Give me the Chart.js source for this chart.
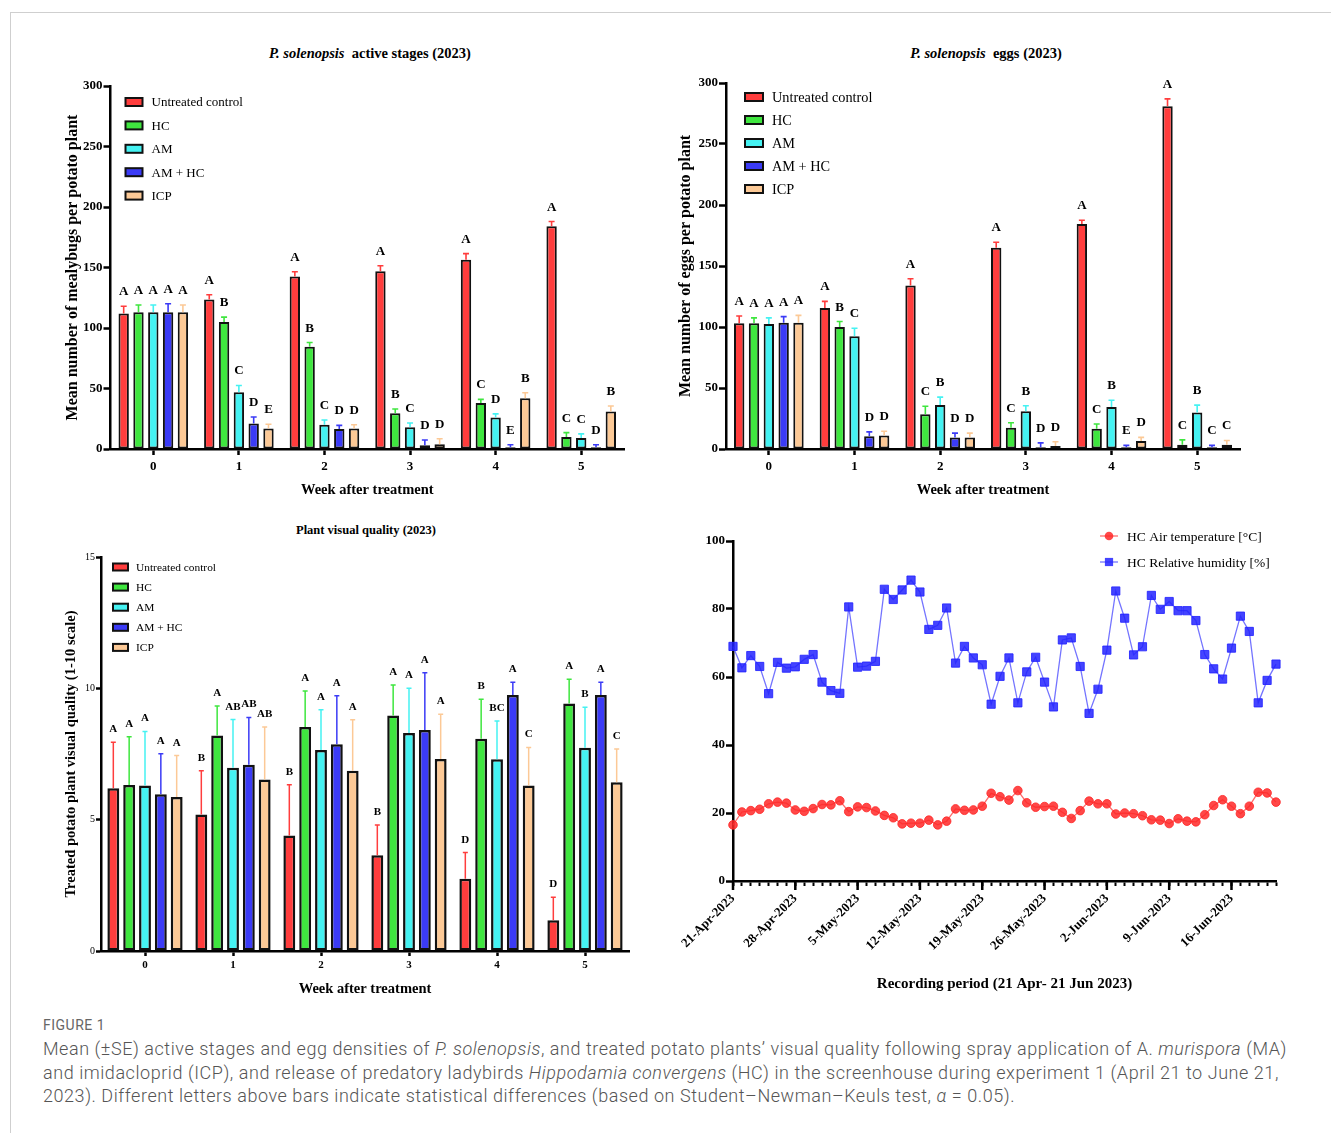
<!DOCTYPE html>
<html>
<head>
<meta charset="utf-8">
<script src="https://cdn.jsdelivr.net/npm/chart.js@4.4.0/dist/chart.umd.min.js"></script>
<style>
  body { margin: 0; background: #fff; width: 1331px; height: 1133px; position: relative; overflow: hidden; }
  .frame { position: absolute; left: 10px; top: 12px; right: -2px; bottom: -2px; border-top: 1px solid #cfcfcf; border-left: 1px solid #cfcfcf; }
  canvas { position: absolute; }
  .title { position: absolute; font-family: "Liberation Serif", serif; font-weight: bold; text-align: center; color: #000; white-space: nowrap; }
  .figno { position: absolute; left: 43px; top: 1017px; font-family: Roboto, sans-serif; font-size: 14px; color: #666; letter-spacing: 0.5px; }
  .caption { position: absolute; left: 43px; top: 1037px; font-family: Roboto, sans-serif; font-weight: 300; font-size: 18px; letter-spacing: 0.55px; line-height: 23.6px; color: #555; white-space: nowrap; }
</style>
</head>
<body>
<div class="frame"></div>

<div class="title" style="left:60px;width:620px;top:45px;font-size:14.5px"><i>P. solenopsis</i>&nbsp; active stages (2023)</div>
<div class="title" style="left:700px;width:572px;top:45px;font-size:14.5px"><i>P. solenopsis</i>&nbsp; eggs (2023)</div>
<div class="title" style="left:60px;width:612px;top:523px;font-size:12.5px">Plant visual quality (2023)</div>

<canvas id="active" width="590" height="470" style="left:60px;top:40px"></canvas>
<canvas id="eggs" width="590" height="470" style="left:670px;top:40px"></canvas>
<canvas id="quality" width="610" height="470" style="left:40px;top:540px"></canvas>
<canvas id="climate" width="651" height="480" style="left:680px;top:520px"></canvas>

<div class="figno">FIGURE 1</div>
<div class="caption">Mean (±SE) active stages and egg densities of <i>P. solenopsis</i>, and treated potato plants’ visual quality following spray application of A. <i>murispora</i> (MA)<br>and imidacloprid (ICP), and release of predatory ladybirds <i>Hippodamia convergens</i> (HC) in the screenhouse during experiment 1 (April 21 to June 21,<br>2023). Different letters above bars indicate statistical differences (based on Student–Newman–Keuls test, <i>α</i> = 0.05).</div>

<script>
// categories
const weeks = ["0", "1", "2", "3", "4", "5"];
const treatments = ["Untreated control", "HC", "AM", "AM + HC", "ICP"];
const treatColors = ["#ff3d3d", "#3fe63f", "#45f2f2", "#3b3bf6", "#fcc996"];

// active stages per plant (rows follow treatments)
const activeMeans = [
    [112, 123.5, 142.5, 147, 156.5, 184],
    [113, 105, 84.5, 29.5, 38, 10],
    [113, 47, 20, 18, 26, 9],
    [113, 21, 16.5, 3, 1.5, 1.5],
    [113, 17, 17, 4, 42, 31]
];
const activeErr = [
    [6, 4, 4, 4.5, 5, 4],
    [6, 4, 3.5, 3.5, 3, 3.5],
    [6, 5.5, 4, 3.5, 3, 3.5],
    [7, 5.5, 3, 4.5, 2, 2],
    [6, 3.5, 3, 4.5, 4.5, 4.5]
];
const activeLetters = [
    ["A", "A", "A", "A", "A", "A"],
    ["A", "B", "B", "B", "C", "C"],
    ["A", "C", "C", "C", "D", "C"],
    ["A", "D", "D", "D", "E", "D"],
    ["A", "E", "D", "D", "B", "B"]
];

// eggs per plant
const eggMeans = [
    [103, 115.5, 134, 165, 184.5, 281],
    [103, 100, 28.5, 17.5, 16.5, 3.5],
    [102.5, 92.5, 36, 31, 34.5, 30],
    [103.5, 10.5, 9.5, 1.5, 1.5, 1.5],
    [103.5, 11, 9.5, 2.5, 6.5, 3.5]
];
const eggErr = [
    [6, 5.5, 5.5, 4.5, 3, 6],
    [4.5, 4.5, 6.5, 4, 4, 4],
    [5, 6.5, 6.5, 4.5, 5.5, 6],
    [5, 3.5, 3.5, 3.5, 1.5, 1.5],
    [6, 3.5, 3.5, 3.5, 3, 3.5]
];
const eggLetters = [
    ["A", "A", "A", "A", "A", "A"],
    ["A", "B", "C", "C", "C", "C"],
    ["A", "C", "B", "B", "B", "B"],
    ["A", "D", "D", "D", "E", "C"],
    ["A", "D", "D", "D", "D", "C"]
];

// plant visual quality (1-10 scale)
const qualityMeans = [
    [6.2, 5.2, 4.4, 3.65, 2.75, 1.17],
    [6.32, 8.2, 8.53, 8.97, 8.08, 9.42],
    [6.3, 6.98, 7.65, 8.3, 7.3, 7.74],
    [5.97, 7.09, 7.87, 8.41, 9.75, 9.75],
    [5.86, 6.53, 6.86, 7.31, 6.3, 6.42]
];
const qualityErr = [
    [1.75, 1.66, 1.93, 1.15, 1.0, 0.88],
    [1.84, 1.13, 1.37, 1.16, 1.5, 0.93],
    [2.06, 1.83, 1.53, 1.7, 1.46, 1.54],
    [1.54, 1.8, 1.85, 2.18, 0.48, 0.48],
    [1.58, 2.0, 1.94, 1.7, 1.45, 1.27]
];
const qualityLetters = [
    ["A", "B", "B", "B", "D", "D"],
    ["A", "A", "A", "A", "B", "A"],
    ["A", "AB", "A", "A", "BC", "B"],
    ["A", "AB", "A", "A", "A", "A"],
    ["A", "AB", "A", "A", "C", "C"]
];

// daily climate 21 Apr - 21 Jun 2023
const dateTicks = ["21-Apr-2023", "28-Apr-2023", "5-May-2023", "12-May-2023", "19-May-2023",
                   "26-May-2023", "2-Jun-2023", "9-Jun-2023", "16-Jun-2023"];
const airTemp = [16.5, 20.3, 20.7, 21.1, 22.7, 23.2, 22.9, 20.9, 20.5, 21.3,
                 22.5, 22.4, 23.6, 20.4, 21.8, 21.6, 20.6, 19.3, 18.6, 16.8,
                 17.0, 17.0, 17.9, 16.5, 17.6, 21.2, 20.8, 20.9, 22.0, 25.8,
                 24.8, 23.8, 26.6, 23.0, 21.7, 21.9, 22.0, 20.2, 18.4, 20.7,
                 23.5, 22.7, 22.7, 19.7, 20.0, 19.8, 19.2, 18.0, 17.9, 16.9,
                 18.3, 17.6, 17.4, 19.5, 22.2, 23.9, 22.0, 19.8, 22.0, 26.1,
                 25.9, 23.2];
const humidity = [69.0, 62.7, 66.3, 63.1, 55.1, 64.3, 62.6, 63.0, 65.2, 66.6,
                  58.5, 56.0, 55.2, 80.6, 62.9, 63.2, 64.6, 85.8, 82.8, 85.6,
                  88.5, 85.0, 74.0, 75.2, 80.3, 64.1, 69.0, 65.6, 63.6, 52.0,
                  60.2, 65.6, 52.4, 61.5, 65.8, 58.5, 51.2, 70.9, 71.5, 63.1,
                  49.3, 56.4, 67.9, 85.3, 77.3, 66.5, 68.9, 84.0, 79.9, 82.2,
                  79.5, 79.5, 76.6, 66.6, 62.4, 59.4, 68.5, 77.9, 73.4, 52.4,
                  59.0, 63.8];

const monthNames = ["Jan", "Feb", "Mar", "Apr", "May", "Jun", "Jul", "Aug", "Sep", "Oct", "Nov", "Dec"];
const days = airTemp.map((_, i) => {
    const d = new Date(Date.UTC(2023, 3, 21 + i));
    return d.getUTCDate() + "-" + monthNames[d.getUTCMonth()] + "-2023";
});

Chart.defaults.font.family = '"Liberation Serif", "Times New Roman", serif';
Chart.defaults.color = "#000";

const SERIF = '"Liberation Serif", serif';

// error bars (upper half only) and significance letters
const errorBars = {
    id: "errorBars",
    afterDatasetsDraw(chart, args, o) {
        const ctx = chart.ctx;
        const y = chart.scales.y;
        chart.data.datasets.forEach((ds, di) => {
            chart.getDatasetMeta(di).data.forEach((bar, i) => {
                const top = y.getPixelForValue(ds.data[i] + ds.errors[i]);
                ctx.save();
                ctx.strokeStyle = ds.backgroundColor;
                ctx.lineWidth = o.lineWidth;
                ctx.beginPath();
                ctx.moveTo(bar.x, bar.y);
                ctx.lineTo(bar.x, top);
                ctx.moveTo(bar.x - o.cap / 2, top);
                ctx.lineTo(bar.x + o.cap / 2, top);
                ctx.stroke();
                ctx.fillStyle = "#000";
                ctx.font = o.font;
                ctx.textAlign = "center";
                ctx.textBaseline = "alphabetic";
                ctx.fillText(ds.letters[i], bar.x, top - o.gap);
                ctx.restore();
            });
        });
    }
};

// legend with black-outlined colour boxes, inside the plot
const boxLegend = {
    id: "boxLegend",
    afterDraw(chart, args, o) {
        const ctx = chart.ctx;
        const { left, top } = chart.chartArea;
        chart.data.datasets.forEach((ds, i) => {
            const bx = left + o.x;
            const cy = top + o.y + i * o.gap;
            ctx.save();
            ctx.fillStyle = ds.backgroundColor;
            ctx.fillRect(bx, cy - o.h / 2, o.w, o.h);
            ctx.strokeStyle = "#111";
            ctx.lineWidth = 2;
            ctx.strokeRect(bx, cy - o.h / 2, o.w, o.h);
            ctx.fillStyle = "#000";
            ctx.font = o.font;
            ctx.textBaseline = "middle";
            ctx.fillText(ds.label, bx + o.textX, cy + 1);
            ctx.restore();
        });
    }
};

function axisGrid(len) {
    return { display: true, drawOnChartArea: false, drawTicks: true, tickLength: len, tickWidth: 2.5, tickColor: "#000", color: "#000", offset: false };
}

function makeBarChart(id, means, errs, letters, c) {
    const datasets = treatments.map((name, k) => ({
        label: name,
        data: means[k],
        errors: errs[k],
        letters: letters[k],
        backgroundColor: treatColors[k],
        borderColor: "#111",
        borderWidth: c.border,
        borderSkipped: false,
        barPercentage: c.barPct,
        categoryPercentage: c.catPct
    }));
    return new Chart(document.getElementById(id), {
        type: "bar",
        data: { labels: weeks, datasets: datasets },
        options: {
            responsive: false,
            animation: false,
            layout: { padding: c.padding },
            plugins: {
                legend: { display: false },
                tooltip: { enabled: false },
                errorBars: c.err,
                boxLegend: c.legend
            },
            scales: {
                x: {
                    grid: axisGrid(c.xTick),
                    border: { display: true, color: "#000", width: 2.5 },
                    ticks: { font: { size: c.xTickSize, weight: "bold" }, padding: c.xTickPad, color: "#000" },
                    title: { display: true, text: "Week after treatment", font: { size: 14.5, weight: "bold" }, padding: { top: 0, bottom: c.xTitlePad } },
                    afterFit: s => { s.height = c.xHeight; s.paddingLeft = 0; s.paddingRight = 0; }
                },
                y: {
                    min: 0,
                    max: c.max,
                    grid: axisGrid(c.yTick),
                    border: { display: true, color: "#000", width: 2.5 },
                    ticks: { stepSize: c.step, font: c.yTickFont, padding: 1, color: "#000" },
                    title: { display: true, text: c.yTitle, font: { size: c.yTitleSize, weight: "bold" }, padding: { top: c.yTitlePad, bottom: 0 } },
                    afterFit: s => { s.width = c.yWidth; s.paddingTop = 0; s.paddingBottom = 0; }
                }
            }
        },
        plugins: [errorBars, boxLegend]
    });
}

makeBarChart("active", activeMeans, activeErr, activeLetters, {
    padding: { left: 0, top: 46, right: 26, bottom: 0 },
    yWidth: 50.5, xHeight: 61, max: 300, step: 50,
    border: 2, barPct: 0.7, catPct: 0.865,
    xTick: 6, yTick: 7, xTickSize: 13, xTickPad: 4, xTitlePad: 11,
    yTickFont: { size: 13, weight: "bold" },
    yTitle: "Mean number of mealybugs per potato plant", yTitleSize: 16, yTitlePad: 3.4,
    err: { lineWidth: 1.6, cap: 6, gap: 11, font: "bold 13px " + SERIF },
    legend: { x: 15, y: 16, gap: 23.4, w: 17, h: 8, textX: 26, font: "13px " + SERIF }
});

makeBarChart("eggs", eggMeans, eggErr, eggLetters, {
    padding: { left: 0, top: 43, right: 20, bottom: 0 },
    yWidth: 56, xHeight: 61, max: 300, step: 50,
    border: 2, barPct: 0.7, catPct: 0.865,
    xTick: 6, yTick: 7, xTickSize: 13, xTickPad: 4, xTitlePad: 11,
    yTickFont: { size: 13, weight: "bold" },
    yTitle: "Mean number of eggs per potato plant", yTitleSize: 16, yTitlePad: 6.4,
    err: { lineWidth: 1.6, cap: 6, gap: 11, font: "bold 13px " + SERIF },
    legend: { x: 19, y: 14, gap: 23, w: 18, h: 8, textX: 27, font: "14.3px " + SERIF }
});

makeBarChart("quality", qualityMeans, qualityErr, qualityLetters, {
    padding: { left: 0, top: 17, right: 21, bottom: 0 },
    yWidth: 61, xHeight: 59, max: 15, step: 5,
    border: 2.5, barPct: 0.75, catPct: 0.9,
    xTick: 5, yTick: 5, xTickSize: 11, xTickPad: 3, xTitlePad: 12,
    yTickFont: { size: 10 },
    yTitle: "Treated potato plant visual quality (1-10 scale)", yTitleSize: 14.5, yTitlePad: 23,
    err: { lineWidth: 1.5, cap: 5, gap: 10, font: "bold 11px " + SERIF },
    legend: { x: 12, y: 10, gap: 20.1, w: 15, h: 7, textX: 23, font: "11.4px " + SERIF }
});

// legend for the climate chart: line sample with its marker
const lineLegend = {
    id: "lineLegend",
    afterDraw(chart, args, o) {
        const ctx = chart.ctx;
        const { left, top } = chart.chartArea;
        chart.data.datasets.forEach((ds, i) => {
            const x0 = left + o.x;
            const cy = top + o.y + i * o.gap;
            const cx = x0 + o.len / 2;
            ctx.save();
            ctx.strokeStyle = ds.borderColor;
            ctx.lineWidth = 1.3;
            ctx.beginPath();
            ctx.moveTo(x0, cy);
            ctx.lineTo(x0 + o.len, cy);
            ctx.stroke();
            ctx.fillStyle = ds.pointBackgroundColor;
            ctx.beginPath();
            if (ds.pointStyle === "circle") {
                ctx.arc(cx, cy, ds.pointRadius, 0, Math.PI * 2);
            } else {
                const s = ds.pointRadius * Math.SQRT1_2;
                ctx.rect(cx - s, cy - s, 2 * s, 2 * s);
            }
            ctx.fill();
            ctx.fillStyle = "#000";
            ctx.font = o.font;
            ctx.textBaseline = "middle";
            ctx.fillText(ds.label, x0 + o.textX, cy + 1);
            ctx.restore();
        });
    }
};

// longer ticks on the weekly marks
const weekTicks = {
    id: "weekTicks",
    afterDraw(chart, args, o) {
        const ctx = chart.ctx;
        const x = chart.scales.x;
        const bottom = chart.chartArea.bottom;
        ctx.save();
        ctx.strokeStyle = "#000";
        ctx.lineWidth = 2.5;
        ctx.beginPath();
        days.forEach((d, i) => {
            if (i % 7 === 0) {
                const px = x.getPixelForValue(i);
                ctx.moveTo(px, bottom);
                ctx.lineTo(px, bottom + o.len);
            }
        });
        ctx.stroke();
        ctx.restore();
    }
};

new Chart(document.getElementById("climate"), {
    type: "line",
    data: {
        labels: days,
        datasets: [
            {
                label: "HC Air temperature [°C]",
                data: airTemp,
                borderColor: "rgba(255,70,70,0.8)",
                borderWidth: 1.3,
                pointStyle: "circle",
                pointRadius: 4.3,
                pointBackgroundColor: "rgba(255,40,40,0.85)",
                pointBorderColor: "rgba(255,40,40,0.85)",
                pointBorderWidth: 1,
                tension: 0
            },
            {
                label: "HC Relative humidity [%]",
                data: humidity,
                borderColor: "rgba(70,70,255,0.75)",
                borderWidth: 1.3,
                pointStyle: "rect",
                pointRadius: 5.8,
                pointBackgroundColor: "rgba(35,35,255,0.85)",
                pointBorderColor: "rgba(35,35,255,0.85)",
                pointBorderWidth: 1,
                tension: 0
            }
        ]
    },
    options: {
        responsive: false,
        animation: false,
        layout: { padding: { left: 0, top: 21, right: 55, bottom: 0 } },
        plugins: {
            legend: { display: false },
            tooltip: { enabled: false },
            lineLegend: { x: 367, y: -5, gap: 26, len: 18, textX: 27, font: "13.5px " + SERIF },
            weekTicks: { len: 9 }
        },
        scales: {
            x: {
                offset: false,
                grid: { display: true, drawOnChartArea: false, drawTicks: true, tickLength: 5, tickWidth: 2, tickColor: "#000", offset: false },
                border: { display: true, color: "#000", width: 2.5 },
                ticks: {
                    autoSkip: false, maxRotation: 45, minRotation: 45, padding: 5,
                    font: { size: 13, weight: "bold" }, color: "#000",
                    callback: (v, i) => (i % 7 === 0 ? dateTicks[i / 7] : "")
                },
                title: { display: true, text: "Recording period (21 Apr- 21 Jun 2023)", font: { size: 15, weight: "bold" }, padding: { top: 0, bottom: 7 } },
                afterFit: s => { s.height = 119; s.paddingLeft = 0; s.paddingRight = 0; }
            },
            y: {
                min: 0,
                max: 100,
                grid: axisGrid(7),
                border: { display: true, color: "#000", width: 2.5 },
                ticks: { stepSize: 20, font: { size: 13, weight: "bold" }, padding: 1, color: "#000" },
                afterFit: s => { s.width = 53; s.paddingTop = 0; s.paddingBottom = 0; }
            }
        }
    },
    plugins: [lineLegend, weekTicks]
});
</script>
</body>
</html>
